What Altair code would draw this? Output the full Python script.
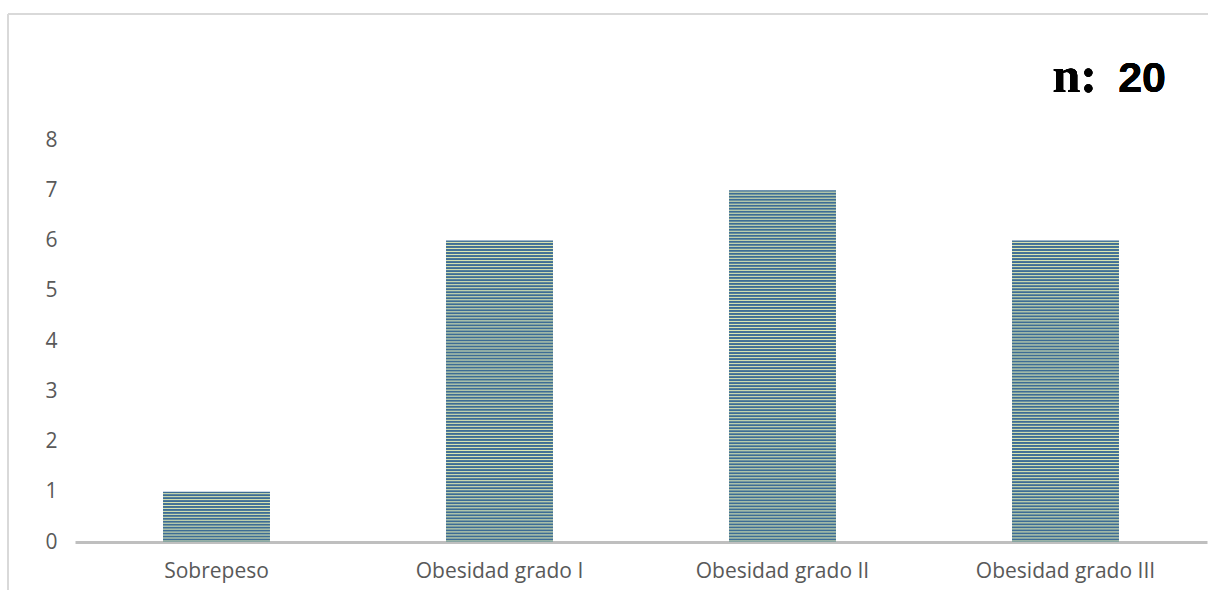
import altair as alt
import pandas as pd

# Pacientes por categoría de IMC
categorias = ["Sobrepeso", "Obesidad grado I", "Obesidad grado II", "Obesidad grado III"]
conteos = [1, 6, 7, 6]
y_ticks = [0, 1, 2, 3, 4, 5, 6, 7, 8]
total_etiqueta = "n:"
total_valor = "20"

df = pd.DataFrame({"categoria": categorias, "n": conteos})

W, H = 1132, 402
OSCURO = "#3d6d95"
CLARO = "#dce6b2"
FUENTE = "Open Sans"

x_enc = alt.X(
    "categoria:N",
    sort=categorias,
    scale=alt.Scale(paddingInner=0.622, paddingOuter=0.311),
    axis=alt.Axis(
        title=None, labelAngle=0, ticks=False, domainColor="#bfbfbf",
        domainWidth=3, labelFont=FUENTE, labelFontSize=21,
        labelColor="#595959", labelPadding=18,
    ),
)
y_enc = alt.Y(
    "n:Q",
    scale=alt.Scale(domain=[0, 8], nice=False),
    axis=alt.Axis(
        title=None, values=y_ticks, grid=False, domain=False, ticks=False,
        labelFont=FUENTE, labelFontSize=21, labelColor="#595959",
        labelPadding=18,
    ),
)


def rayado(valor):
    # franjas horizontales de unos 3 px, con transición suave entre tonos
    franjas = max(1, round(valor * H / 8 / 3))
    stops = []
    for i in range(franjas):
        stops += [
            alt.GradientStop(offset=i / franjas, color=OSCURO),
            alt.GradientStop(offset=(i + 0.3) / franjas, color=OSCURO),
            alt.GradientStop(offset=(i + 0.65) / franjas, color=CLARO),
        ]
    stops.append(alt.GradientStop(offset=1, color=OSCURO))
    return alt.Gradient(gradient="linear", x1=0, y1=0, x2=0, y2=1, stops=stops)


capas = []
for cat, val in zip(categorias, conteos):
    capas.append(
        alt.Chart(df)
        .transform_filter(alt.datum.categoria == cat)
        .mark_bar(color=rayado(val))
        .encode(x=x_enc, y=y_enc)
    )

marco_sup = alt.Chart(df).mark_rule(color="#d9d9d9", strokeWidth=2).encode(
    x=alt.value(-67), x2=alt.value(W + 10), y=alt.value(-126)
)
marco_izq = alt.Chart(df).mark_rule(color="#d9d9d9", strokeWidth=2).encode(
    x=alt.value(-67), y=alt.value(-126), y2=alt.value(H + 60)
)
total_n = alt.Chart(df).mark_text(
    text=total_etiqueta, font="Liberation Serif", fontWeight="bold", fontSize=50,
    align="right", baseline="alphabetic", color="#000000",
).encode(x=alt.value(1022), y=alt.value(-48))
total_v = alt.Chart(df).mark_text(
    text=total_valor, font="Liberation Sans", fontWeight="bold", fontSize=43,
    align="right", baseline="alphabetic", color="#000000",
).encode(x=alt.value(1091), y=alt.value(-48))

chart = (
    alt.layer(*capas, marco_sup, marco_izq, total_n, total_v)
    .properties(
        width=W, height=H,
        padding={"left": 75, "top": 140, "right": 1, "bottom": 48},
        autosize=alt.AutoSizeParams(type="none"),
        background="#ffffff",
    )
    .configure_view(stroke=None)
)

chart.save("out.html", embed_options={"renderer": "svg", "actions": False})
